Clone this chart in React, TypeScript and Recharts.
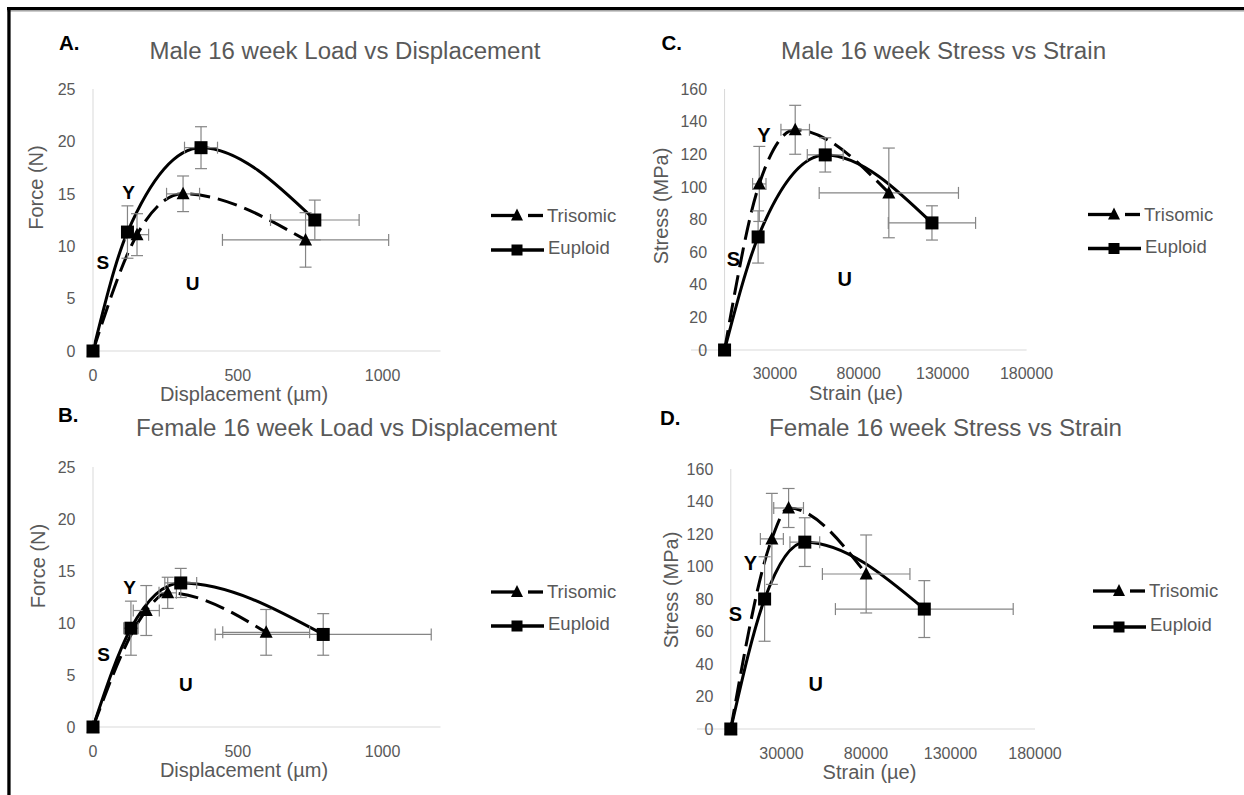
import React from 'react';
import { ComposedChart, Line, Scatter, XAxis, YAxis, ErrorBar, ReferenceLine } from 'recharts';

// Panel A - Male load vs displacement
const aTriX = [0, 152, 311, 734];
const aTriY = [0, 11.1, 15.0, 10.6];
const aTriEx = [0, 40, 57, 287];
const aTriEy = [0, 2.0, 1.7, 2.6];
const aEupX = [0, 119, 373, 766];
const aEupY = [0, 11.35, 19.4, 12.5];
const aEupEx = [0, 15, 57, 153];
const aEupEy = [0, 2.5, 2.0, 1.9];

// Panel B - Female load vs displacement
const bTriX = [0, 184, 258, 598];
const bTriY = [0, 11.2, 12.9, 9.1];
const bTriEx = [0, 45, 30, 150];
const bTriEy = [0, 2.4, 1.5, 2.2];
const bEupX = [0, 131, 303, 795];
const bEupY = [0, 9.5, 13.85, 8.9];
const bEupEx = [0, 25, 55, 373];
const bEupEy = [0, 2.6, 1.4, 2.0];

// Panel C - Male stress vs strain
const cTriX = [0, 20700, 42100, 97900];
const cTriY = [0, 101.8, 135, 96.3];
const cTriEx = [0, 4000, 8500, 41500];
const cTriEy = [0, 23, 15, 27.5];
const cEupX = [0, 20000, 60000, 123600];
const cEupY = [0, 69.3, 119.6, 77.9];
const cEupEx = [0, 3000, 10700, 26000];
const cEupEy = [0, 16, 10.5, 10.5];

// Panel D - Female stress vs strain
const dTriX = [0, 24300, 34200, 80100];
const dTriY = [0, 117, 136, 95.4];
const dTriEx = [0, 6800, 8800, 25900];
const dTriEy = [0, 28, 12, 24];
const dEupX = [0, 20000, 43800, 114500];
const dEupY = [0, 80, 115, 73.8];
const dEupEx = [0, 2500, 8800, 52600];
const dEupEy = [0, 26, 15, 17.5];

const loadTicksX = [0, 500, 1000];
const loadTicksY = [0, 5, 10, 15, 20, 25];
const strainTicksX = [30000, 80000, 130000, 180000];
const stressTicksY = [0, 20, 40, 60, 80, 100, 120, 140, 160];

const seriesNames = ['Trisomic', 'Euploid'];

const FONT = '"Liberation Sans", Arial, sans-serif';
const GREY = '#595959';
const AXIS = '#d9d9d9';

const rows = (xs: number[], ys: number[], ex: number[], ey: number[]) =>
  xs.map((x, i) => ({ x, y: ys[i], ex: ex[i] || undefined, ey: ey[i] || undefined }));

const panels = [
  {
    key: 'A', left: 92.5, right: 440, top: 89, bottom: 351,
    xDomain: [0, 1200], xTicks: loadTicksX, yDomain: [0, 25], yTicks: loadTicksY,
    tri: rows(aTriX, aTriY, aTriEx, aTriEy), eup: rows(aEupX, aEupY, aEupEx, aEupEy),
  },
  {
    key: 'B', left: 92.5, right: 440, top: 467, bottom: 727,
    xDomain: [0, 1200], xTicks: loadTicksX, yDomain: [0, 25], yTicks: loadTicksY,
    tri: rows(bTriX, bTriY, bTriEx, bTriEy), eup: rows(bEupX, bEupY, bEupEx, bEupEy),
  },
  {
    key: 'C', left: 691.4, right: 1027, top: 89, bottom: 350,
    xDomain: [-20000, 180000], xTicks: strainTicksX, yDomain: [0, 160], yTicks: stressTicksY,
    tri: rows(cTriX, cTriY, cTriEx, cTriEy), eup: rows(cEupX, cEupY, cEupEx, cEupEy),
  },
  {
    key: 'D', left: 696.7, right: 1034.7, top: 469, bottom: 729,
    xDomain: [-20000, 180000], xTicks: strainTicksX, yDomain: [0, 160], yTicks: stressTicksY,
    tri: rows(dTriX, dTriY, dTriEx, dTriEy), eup: rows(dEupX, dEupY, dEupEx, dEupEy),
  },
];

const Square = (p: any) => <rect x={p.cx - 6.5} y={p.cy - 6.5} width={13} height={13} fill="#000" />;
const Triangle = (p: any) => (
  <polygon points={`${p.cx},${p.cy - 7} ${p.cx - 6.5},${p.cy + 5.5} ${p.cx + 6.5},${p.cy + 5.5}`} fill="#000" />
);

const ML = 60;
const MT = 15;
const MR = 45;
const XH = 40;

function Panel({ cfg }: { cfg: any }) {
  const w = cfg.right - cfg.left;
  const h = cfg.bottom - cfg.top;
  const yAxisX = ML + ((0 - cfg.xDomain[0]) / (cfg.xDomain[1] - cfg.xDomain[0])) * w;
  const shifted = cfg.xDomain[0] < 0;
  const errStyle = { stroke: '#858585', strokeWidth: 1.2, width: 6 };

  return (
    <div style={{ position: 'absolute', left: cfg.left - ML, top: cfg.top - MT }}>
      <ComposedChart width={w + ML + MR} height={h + MT + XH} margin={{ top: MT, right: MR, left: 0, bottom: 0 }}>
        <XAxis
          type="number"
          dataKey="x"
          domain={cfg.xDomain}
          ticks={cfg.xTicks}
          interval={0}
          height={XH}
          axisLine={{ stroke: AXIS }}
          tickLine={false}
          tick={(p: any) => (
            <text x={p.x} y={MT + h + 29.5} textAnchor="middle" fill={GREY} fontSize={16} fontFamily={FONT}>
              {p.payload.value}
            </text>
          )}
        />
        <YAxis
          type="number"
          dataKey="y"
          domain={cfg.yDomain}
          ticks={cfg.yTicks}
          interval={0}
          width={ML}
          axisLine={shifted ? false : { stroke: AXIS }}
          tickLine={false}
          tick={(p: any) => (
            <text x={yAxisX - 17.5} y={p.y + 5.7} textAnchor="end" fill={GREY} fontSize={16} fontFamily={FONT}>
              {p.payload.value}
            </text>
          )}
        />
        {shifted && <ReferenceLine x={0} stroke={AXIS} />}
        <Line data={cfg.tri} dataKey="y" type="monotone" stroke="#000" strokeWidth={3} strokeDasharray="20 8"
          dot={false} activeDot={false} isAnimationActive={false} />
        <Line data={cfg.eup} dataKey="y" type="monotone" stroke="#000" strokeWidth={3}
          dot={false} activeDot={false} isAnimationActive={false} />
        <Scatter data={cfg.tri} dataKey="y" shape={Triangle} isAnimationActive={false}>
          <ErrorBar dataKey="ex" direction="x" {...errStyle} />
          <ErrorBar dataKey="ey" direction="y" {...errStyle} />
        </Scatter>
        <Scatter data={cfg.eup} dataKey="y" shape={Square} isAnimationActive={false}>
          <ErrorBar dataKey="ex" direction="x" {...errStyle} />
          <ErrorBar dataKey="ey" direction="y" {...errStyle} />
        </Scatter>
      </ComposedChart>
    </div>
  );
}

const titles = [
  { text: 'A.', x: 59, y: 50 },
  { text: 'B.', x: 58, y: 422 },
  { text: 'C.', x: 661.5, y: 50 },
  { text: 'D.', x: 660, y: 425 },
];

const chartTitles = [
  { text: 'Male 16 week Load vs Displacement', x: 345, y: 59, len: 391 },
  { text: 'Female 16 week Load vs Displacement', x: 346.5, y: 436, len: 421 },
  { text: 'Male 16 week Stress vs Strain', x: 943.6, y: 59, len: 325 },
  { text: 'Female 16 week Stress vs Strain', x: 945.5, y: 436, len: 353 },
];

const yTitles = [
  { text: 'Force (N)', x: 35.6, y: 187.5 },
  { text: 'Force (N)', x: 37.5, y: 566 },
  { text: 'Stress (MPa)', x: 661, y: 206 },
  { text: 'Stress (MPa)', x: 671, y: 590 },
];

const xTitles = [
  { text: 'Displacement (µm)', x: 244, y: 401 },
  { text: 'Displacement (µm)', x: 244, y: 777 },
  { text: 'Strain (µe)', x: 856, y: 400 },
  { text: 'Strain (µe)', x: 869.5, y: 779 },
];

const regionLabels = [
  { text: 'S', x: 102.8, y: 261.7, s: 19 }, { text: 'Y', x: 128.5, y: 191.7, s: 19 }, { text: 'U', x: 192.6, y: 282.7, s: 19 },
  { text: 'S', x: 103.6, y: 654.3, s: 19 }, { text: 'Y', x: 129.7, y: 586.7, s: 19 }, { text: 'U', x: 185.8, y: 684.3, s: 19 },
  { text: 'S', x: 733.4, y: 258.3, s: 20 }, { text: 'Y', x: 764, y: 135, s: 20 }, { text: 'U', x: 844.8, y: 278.3, s: 20 },
  { text: 'S', x: 735.4, y: 614, s: 20 }, { text: 'Y', x: 750.5, y: 562.7, s: 20 }, { text: 'U', x: 815.8, y: 684, s: 20 },
];

const legends = [
  { x: 491, y1: 215.5, y2: 250 },
  { x: 491, y1: 592, y2: 626 },
  { x: 1088, y1: 214.5, y2: 248.5 },
  { x: 1093, y1: 591, y2: 627 },
];

function LegendBlock({ x, y1, y2 }: { x: number; y1: number; y2: number }) {
  const m = x + 26;
  return (
    <g>
      <line x1={x} y1={y1} x2={x + 24} y2={y1} stroke="#000" strokeWidth={3.3} />
      <line x1={x + 37} y1={y1} x2={x + 52} y2={y1} stroke="#000" strokeWidth={3.3} />
      <polygon points={`${m},${y1 - 7} ${m - 6},${y1 + 5} ${m + 6},${y1 + 5}`} fill="#000" />
      <text x={x + 56} y={y1 + 6} fill={GREY} fontSize={18.5} fontFamily={FONT}>{seriesNames[0]}</text>
      <line x1={x} y1={y2} x2={x + 53} y2={y2} stroke="#000" strokeWidth={3.3} />
      <rect x={m - 5.5} y={y2 - 5.5} width={11} height={11} fill="#000" />
      <text x={x + 57} y={y2 + 4} fill={GREY} fontSize={18.5} fontFamily={FONT}>{seriesNames[1]}</text>
    </g>
  );
}

export default function App() {
  return (
    <div style={{ position: 'absolute', left: 0, top: 0, width: 1244, height: 795, background: '#fff', overflow: 'hidden' }}>
      {panels.map((p) => (
        <Panel key={p.key} cfg={p} />
      ))}
      <svg width={1244} height={795} style={{ position: 'absolute', left: 0, top: 0, pointerEvents: 'none' }}>
        <rect x={7} y={7} width={1237} height={3.3} fill="#000" />
        <line x1={7} y1={11} x2={1244} y2={11} stroke="#9a9a9a" strokeWidth={1} />
        <rect x={7.3} y={7} width={3.3} height={788} fill="#000" />
        {titles.map((t) => (
          <text key={t.text} x={t.x} y={t.y} fontSize={20.5} fontWeight="bold" fontFamily={FONT} fill="#000">{t.text}</text>
        ))}
        {chartTitles.map((t) => (
          <text key={t.text} x={t.x} y={t.y} textAnchor="middle" fontSize={23.5} fontFamily={FONT} fill={GREY}
            textLength={t.len} lengthAdjust="spacingAndGlyphs">{t.text}</text>
        ))}
        {yTitles.map((t, i) => (
          <text key={i} transform={`translate(${t.x},${t.y}) rotate(-90)`} textAnchor="middle" dominantBaseline="central"
            fontSize={20} fontFamily={FONT} fill={GREY}>{t.text}</text>
        ))}
        {xTitles.map((t, i) => (
          <text key={i} x={t.x} y={t.y} textAnchor="middle" fontSize={20} fontFamily={FONT} fill={GREY}>{t.text}</text>
        ))}
        {regionLabels.map((t, i) => (
          <text key={i} x={t.x} y={t.y + t.s * 0.36} textAnchor="middle" fontSize={t.s} fontWeight="bold"
            fontFamily={FONT} fill="#000">{t.text}</text>
        ))}
        {legends.map((l, i) => (
          <LegendBlock key={i} {...l} />
        ))}
      </svg>
    </div>
  );
}
